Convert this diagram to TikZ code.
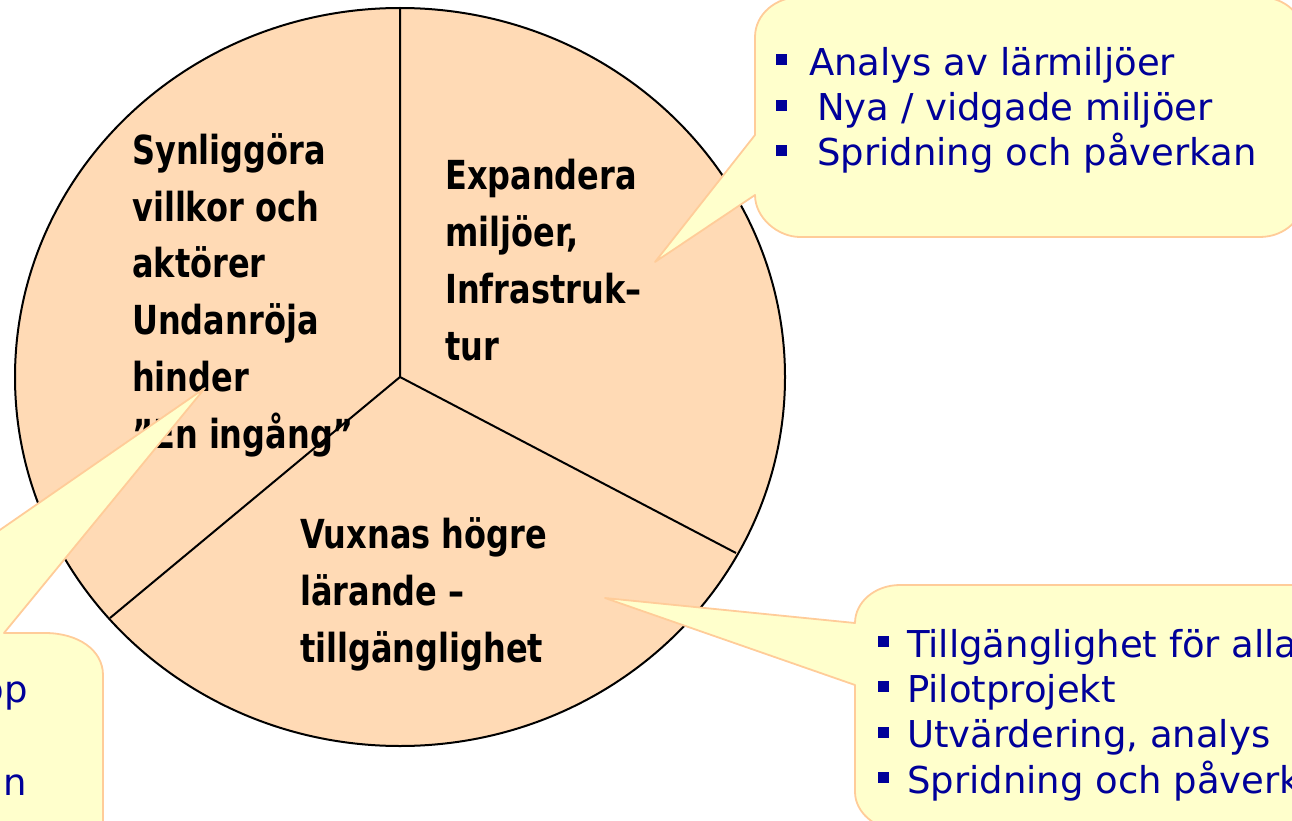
\documentclass[tikz,border=0pt]{standalone}
\usepackage{fontspec}
\setmainfont{DejaVu Sans}
\newfontfamily\piefont[FakeStretch=0.8]{DejaVu Sans}
\definecolor{peach}{RGB}{255,218,181}
\definecolor{notefill}{RGB}{255,255,204}
\definecolor{noteline}{RGB}{255,204,153}
\definecolor{noteblue}{RGB}{0,0,153}
\newcommand{\sqb}{\textcolor{noteblue}{\rule[0.27em]{0.28em}{0.3em}}\hspace{0.5em}}

\tikzset{
  pietext/.style={anchor=base west, inner sep=0pt, align=left,
    font=\piefont\bfseries\fontsize{40}{56.7}\selectfont},
  notetext/.style={anchor=base west, inner sep=0pt, align=left, text=noteblue,
    font=\fontsize{37}{45.3}\selectfont},
  callout/.style={fill=notefill, draw=noteline, line width=1.8pt, line join=round},
  rim/.style={draw=black, line width=2pt}
}

\begin{document}
\begin{tikzpicture}[x=1pt,y=-1pt]
\useasboundingbox (0,0) rectangle (1292,821);
\begin{scope}
\clip (0,0) rectangle (1292,821);

% the pie
\coordinate (mid) at (400,377);
\coordinate (rimtop) at (400,8);
\coordinate (rimright) at (736,553);
\coordinate (rimleft) at (110,618);
\filldraw[fill=peach, rim] (mid) ellipse [x radius=385, y radius=369];
\draw[rim] (rimtop) -- (mid) -- (rimright) (mid) -- (rimleft);

% anchors sit on the last line
\node[pietext] (visible) at (132,448) {Synliggöra\\villkor och\\aktörer\\Undanröja\\hinder\\”En ingång”};
\node[pietext] (expand) at (445,360) {Expandera\\miljöer,\\Infrastruk–\\tur};
\node[pietext] (adult) at (300,662) {Vuxnas högre\\lärande –\\tillgänglighet};

% callouts
\coordinate (lefttip) at (205,388);
\coordinate (envtip) at (655,262);
\coordinate (accesstip) at (605,598);

\draw[callout] (lefttip) -- (4,633) -- (45,633) .. controls (78,633) and (103,650) .. (103,675)
  -- (103,900) -- (-300,900) -- (-300,633) -- (-149,633) -- cycle;
\draw[callout] (755,135) -- (envtip) -- (755,195) .. controls (755,218) and (778,237) .. (800,237)
  -- (1260,237) .. controls (1285,237) and (1305,218) .. (1305,195)
  -- (1305,40) .. controls (1305,15) and (1285,-3) .. (1260,-3)
  -- (800,-3) .. controls (776,-3) and (755,14) .. (755,37) -- cycle;
\draw[callout] (855,685) -- (accesstip) -- (855,623) .. controls (855,602) and (875,585) .. (900,585)
  -- (1400,585) -- (1400,830) -- (900,830) .. controls (875,830) and (855,812) .. (855,792) -- cycle;

\node[notetext, anchor=base east] (leftop) at (28,702) {op};
\node[notetext, anchor=base east] (leftan) at (27,795) {an};
\node[notetext] (envlist) at (776,166) {\sqb\hspace{4pt}Analys av lärmiljöer\\
  \sqb\hspace{12pt}Nya / vidgade miljöer\\\sqb\hspace{12pt}Spridning och påverkan};
\node[notetext] (accesslist) at (878,793) {\sqb Tillgänglighet för alla\\\sqb Pilotprojekt\\
  \sqb Utvärdering, analys\\\sqb Spridning och påverkan};
\end{scope}
\end{tikzpicture}
\end{document}
